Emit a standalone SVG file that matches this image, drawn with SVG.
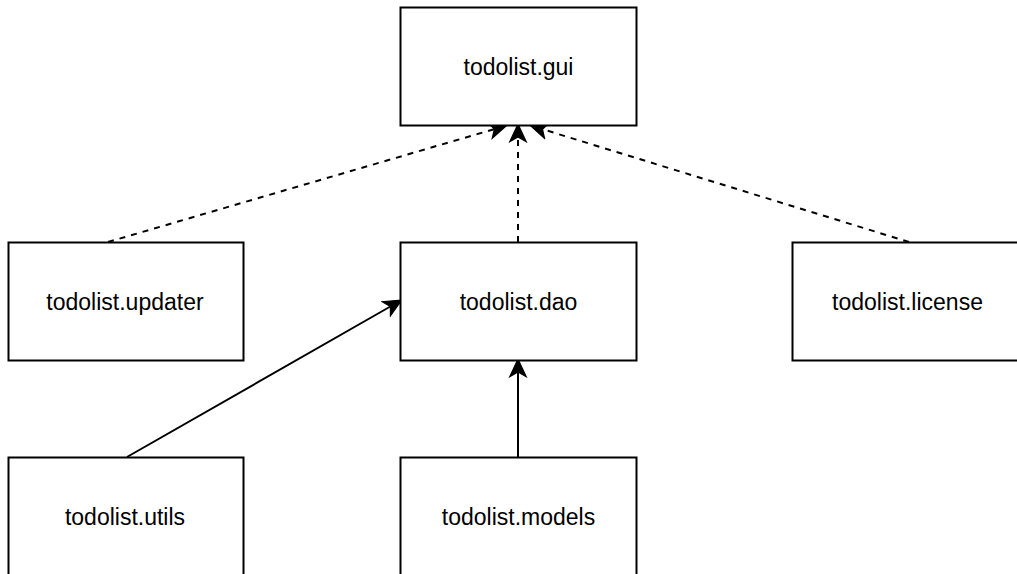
<svg xmlns="http://www.w3.org/2000/svg" width="1017" height="574" viewBox="0 0 1017 574">
  <style>
    .box { fill: #ffffff; stroke: #000000; stroke-width: 2; }
    .label { font-family: "Liberation Sans", Arial, sans-serif; font-size: 23px; fill: #000000; text-anchor: middle; }
    .dep { fill: none; stroke: #000000; stroke-width: 2; marker-end: url(#arrow); }
    .dashed { stroke-dasharray: 6 6; }
  </style>
  <defs>
    <!-- classic arrowhead; the line ends at the notch, tip sits 11px further on -->
    <marker id="arrow" markerUnits="userSpaceOnUse" markerWidth="20" markerHeight="20" viewBox="-5 -8 17 16" refX="0" refY="0" orient="auto">
      <path d="M11,0 L-4,-7 L0,0 L-4,7 Z" fill="#000000" stroke="#000000" stroke-width="1" stroke-linejoin="miter"/>
    </marker>
  </defs>
  <rect width="1017" height="574" fill="#ffffff"/>

  <g id="connectors">
    <line class="dep dashed" x1="108" y1="242" x2="494.4" y2="129.1"/>
    <line class="dep dashed" x1="518" y1="242" x2="518" y2="137"/>
    <line class="dep dashed" x1="909" y1="242" x2="542.5" y2="129.2"/>
    <line class="dep" x1="127" y1="457" x2="390.4" y2="306.5"/>
    <line class="dep" x1="518" y1="457" x2="518" y2="372"/>
  </g>

  <g id="gui">
    <rect class="box" x="400.5" y="7.5" width="236" height="118"/>
    <text class="label" x="518.5" y="74.5">todolist.gui</text>
  </g>
  <g id="updater">
    <rect class="box" x="8.5" y="242.5" width="235" height="118"/>
    <text class="label" x="125" y="309.5">todolist.updater</text>
  </g>
  <g id="dao">
    <rect class="box" x="400.5" y="242.5" width="236" height="118"/>
    <text class="label" x="518.5" y="309.5">todolist.dao</text>
  </g>
  <g id="license">
    <rect class="box" x="792.5" y="242.5" width="232" height="118"/>
    <text class="label" x="907.5" y="309.5">todolist.license</text>
  </g>
  <g id="utils">
    <rect class="box" x="8.5" y="457.5" width="235" height="118"/>
    <text class="label" x="125" y="524.5">todolist.utils</text>
  </g>
  <g id="models">
    <rect class="box" x="400.5" y="457.5" width="236" height="118"/>
    <text class="label" x="518.5" y="524.5">todolist.models</text>
  </g>
</svg>
